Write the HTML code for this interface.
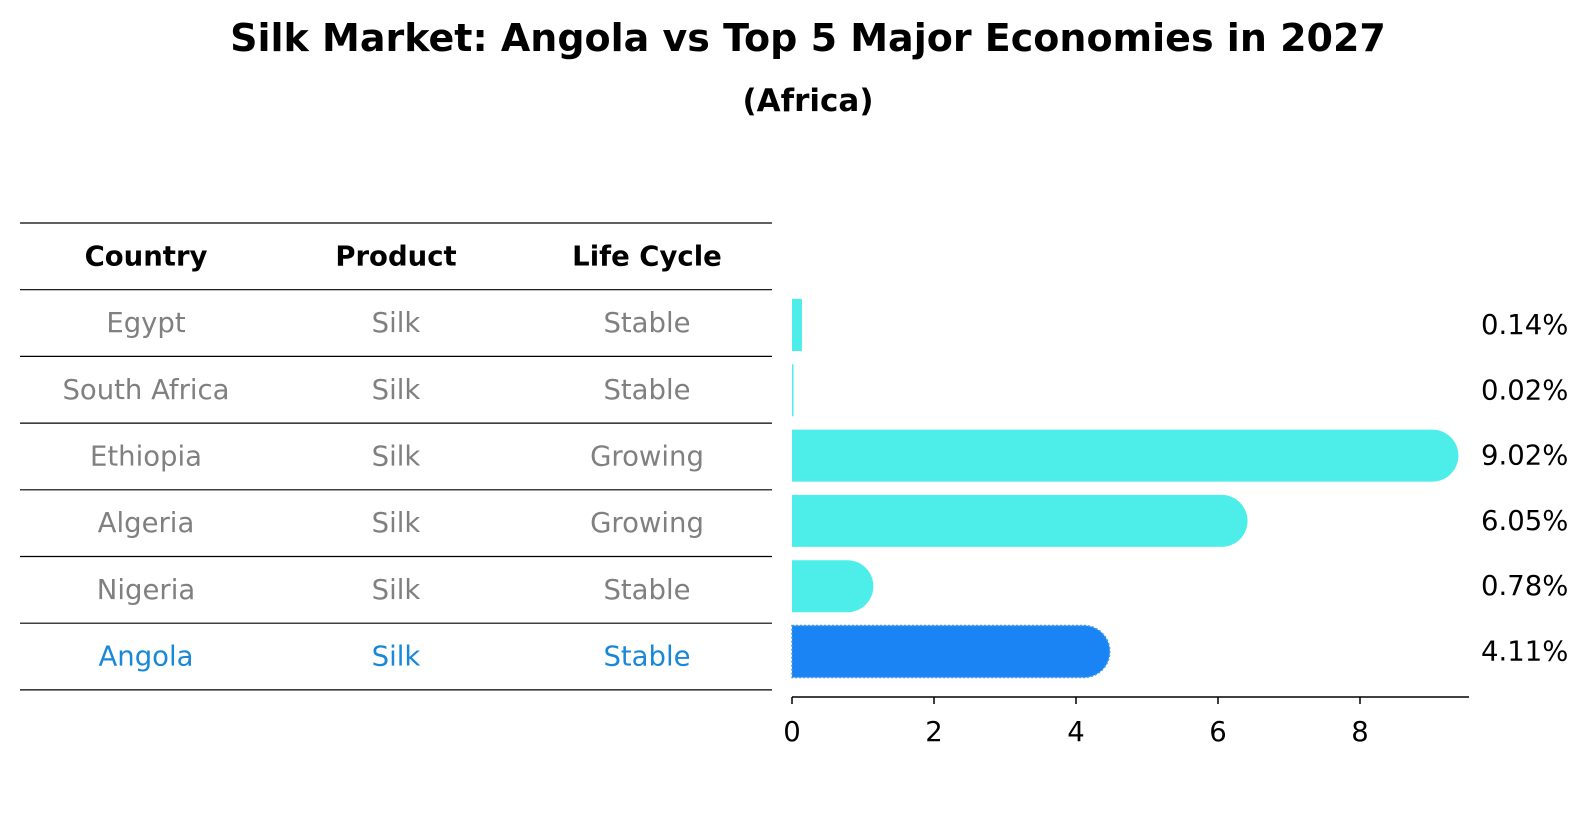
<!DOCTYPE html>
<html><head><meta charset="utf-8"><style>
body{margin:0;background:#fff;font-family:"Liberation Sans","DejaVu Sans",sans-serif}
svg text{font-family:"DejaVu Sans","Liberation Sans",sans-serif}
</style></head><body>
<svg width="1586" height="823" xmlns="http://www.w3.org/2000/svg">
<text x="808" y="51" text-anchor="middle" font-size="38" font-weight="bold">Silk Market: Angola vs Top 5 Major Economies in 2027</text>
<text x="808" y="111" text-anchor="middle" font-size="31" font-weight="bold">(Africa)</text>
<g id="table"></g>
<g id="bars"></g>
</svg>
<script>
const countries=["Egypt","South Africa","Ethiopia","Algeria","Nigeria","Angola"];
const products=["Silk","Silk","Silk","Silk","Silk","Silk"];
const lifeCycles=["Stable","Stable","Growing","Growing","Stable","Stable"];
const values=[0.14,0.02,9.02,6.05,0.78,4.11];
const valueLabels=["0.14%","0.02%","9.02%","6.05%","0.78%","4.11%"];
const ticks=[0,2,4,6,8];
const NS="http://www.w3.org/2000/svg";
function mk(tag,attrs,parent,txt){const e=document.createElementNS(NS,tag);for(const k in attrs)e.setAttribute(k,attrs[k]);if(txt!==undefined)e.textContent=txt;parent.appendChild(e);return e;}
const tbl=document.getElementById('table');
const lineY=i=>223+i*66.7;
const colX=[146,396,647];
const FS=27.5;
for(let i=0;i<=countries.length+1;i++){const l=mk('line',{x1:20,x2:772,y1:lineY(i),y2:lineY(i),stroke:'#000','stroke-width':1.2},tbl);

}
["Country","Product","Life Cycle"].forEach((h,j)=>{const t=mk('text',{x:colX[j],y:(lineY(0)+lineY(1))/2+9,'text-anchor':'middle','font-size':FS,'font-weight':'bold'},tbl,h);

});
countries.forEach((c,i)=>{const col=c==="Angola"?'#1a88d8':'#808080';[c,products[i],lifeCycles[i]].forEach((v,j)=>{const t=mk('text',{x:colX[j],y:(lineY(i+1)+lineY(i+2))/2+9,'text-anchor':'middle','font-size':FS,fill:col},tbl,v);

});});
const g=document.getElementById('bars');
const x0=792,ppu=71;
const xs=v=>x0+v*ppu;
const yc=i=>325+i*65.3;
const bh=52,r=26;
values.forEach((v,i)=>{const col=countries[i]==="Angola"?'#1a84f5':'#4deee9';const xe=xs(v);
let d;
if(v>0.5){d=`M${x0},${yc(i)-bh/2} H${xe} A${r},${r} 0 0 1 ${xe},${yc(i)+bh/2} H${x0} Z`;}
else{d=`M${x0},${yc(i)-bh/2} H${Math.max(xe,x0+1.5)} V${yc(i)+bh/2} H${x0} Z`;}
const p=mk('path',{d:d,fill:col},g);
if(countries[i]==="Angola"){p.setAttribute('stroke','#4a9be0');p.setAttribute('stroke-dasharray','2 2');p.setAttribute('stroke-width','1.5');}


const t=mk('text',{x:1481,y:yc(i)+9,'font-size':FS},g,valueLabels[i]);

});
const ax=mk('line',{x1:x0,x2:1469,y1:697,y2:697,stroke:'#000','stroke-width':1.5},g);


ticks.forEach(tk=>{const l=mk('line',{x1:xs(tk),x2:xs(tk),y1:697,y2:704,stroke:'#000','stroke-width':1.5},g);


const t=mk('text',{x:xs(tk),y:741,'text-anchor':'middle','font-size':FS},g,String(tk));

});
</script>
</body></html>
